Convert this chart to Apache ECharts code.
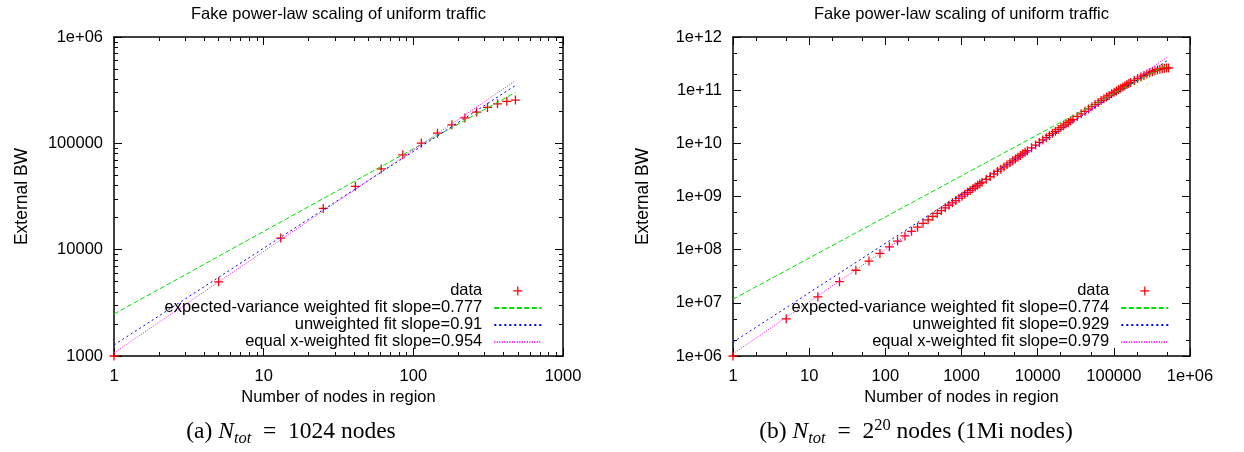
<!DOCTYPE html>
<html><head><meta charset="utf-8">
<script src="https://cdn.jsdelivr.net/npm/echarts@6/dist/echarts.min.js"></script>
<style>html,body{margin:0;padding:0;background:#fff}#c{width:1244px;height:452px}</style>
</head><body><div id="c"></div>
<script>
// ---------- data ----------
const leftNodes = [1,5,13,25,41,61,85,113,145,181,221,265,313,365,421,481];
const leftBW = [1000,4980,12848,24414,39398,57422,78021,100629,124589,149153,173473,196614,217545,235127,248155,255316];
const leftFitX = [1, 481];
const leftFitEV = [2480, 301000];
const leftFitUW = [1270, 350000];
const leftFitEX = [1072, 388000];

const rightNodes = [1,5,13,25,41,61,85,113,145,181,221,265,313,365,421,481,545,613,685,761,841,925,1013,1105,1201,1301,1405,1513,1625,1741,1861,
 2113,2381,2665,2965,3281,3613,3961,4325,4705,5101,5513,5941,6385,6845,7321,
 8321,9385,10513,11705,12961,14281,15665,17113,18625,20201,21841,23545,25313,27145,29041,
 33025,37265,41761,46513,51521,56785,62305,68081,74113,80401,86945,93745,100801,108113,115681,
 123505,131585,139921,148513,157361,166465,185441,205441,226465,248513,271585,295681,320801,346945,374113,402305,431521,461761,493025,523265];
const rightBW = [1.0e6,5.0e6,1.3e7,2.4999e7,4.1e7,6.0996e7,8.4993e7,1.1299e8,1.4498e8,1.8097e8,2.2095e8,2.6493e8,3.1291e8,3.6487e8,4.2083e8,4.8078e8,5.4472e8,6.1264e8,6.8455e8,7.6045e8,8.4033e8,9.2418e8,1.01202e9,1.10384e9,1.19962e9,1.29939e9,1.40312e9,1.51082e9,1.62248e9,1.73811e9,1.8577e9,
 2.1087e9,2.3756e9,2.6582e9,2.9566e9,3.2707e9,3.6005e9,3.946e9,4.3072e9,4.6839e9,5.0762e9,5.484e9,5.9073e9,6.3461e9,6.8003e9,7.2699e9,
 8.255e9,9.301e9,1.04076e10,1.15743e10,1.28008e10,1.40865e10,1.5431e10,1.68337e10,1.82942e10,1.98118e10,2.13861e10,2.30163e10,2.4702e10,2.64423e10,2.82367e10,
 3.19849e10,3.59406e10,4.00978e10,4.44497e10,4.89895e10,5.37098e10,5.86029e10,6.36618e10,6.88747e10,7.42362e10,7.97357e10,8.5364e10,9.11107e10,9.6966e10,1.02919e11,
 1.08958e11,1.15073e11,1.2125e11,1.27478e11,1.33746e11,1.40038e11,1.52646e11,1.65191e11,1.77554e11,1.89615e11,2.01243e11,2.12303e11,2.22653e11,2.3215e11,2.40637e11,2.47953e11,2.53936e11,2.58415e11,2.61214e11,2.62142e11];
const rightFitX = [1, 523265];
const rightFitEV = [1.17e7, 3.10e11];
const rightFitUW = [1.82e6, 3.74e11];
const rightFitEX = [1.10e6, 4.38e11];

const leftXLabels = ['1','10','100','1000'];
const leftYLabels = ['1000','10000','100000','1e+06'];
const rightXLabels = ['1','10','100','1000','10000','100000','1e+06'];
const rightYLabels = ['1e+06','1e+07','1e+08','1e+09','1e+10','1e+11','1e+12'];
const leftMinorMult = [2,3,4,5,6,7,8,9];
const rightMinorMult = [2,5];

const leftNames = ['data','expected-variance weighted fit slope=0.777','unweighted fit slope=0.91','equal x-weighted fit slope=0.954'];
const rightNames = ['data','expected-variance weighted fit slope=0.774','unweighted fit slope=0.929','equal x-weighted fit slope=0.979'];

const titleText = 'Fake power-law scaling of uniform traffic';
const xName = 'Number of nodes in region';
const yName = 'External BW';

// ---------- styles ----------
const FONT = 'Liberation Sans';
const FS = 16.5;
const RED = '#ff0000', GREEN = '#00e000', BLUE = '#0000ff', MAG = '#ff00ff';
const PLUS = 'path://M4.3,0H5.7V4.3H10V5.7H5.7V10H4.3V5.7H0V4.3H4.3Z';

const grids = [
  {left:114, top:37, width:449, height:319},
  {left:733, top:37, width:457, height:319}
];

function zip(a,b){ return a.map((v,i)=>[v,b[i]]); }
function minorVals(lo, hi, mults){
  const out=[];
  for(let d=lo; d<hi; d++) for(const m of mults) out.push(d+Math.log10(m));
  return out;
}

const xAxes=[], yAxes=[];
xAxes.push({type:'log', gridIndex:0, min:1, max:1000, show:false});
xAxes.push({type:'log', gridIndex:1, min:1, max:1e6, show:false});
yAxes.push({type:'log', gridIndex:0, min:1000, max:1e6, show:false});
yAxes.push({type:'log', gridIndex:1, min:1e6, max:1e12, show:false});

function deco(list, gi, pos, lo, hi, labels, mults, showLabels, margin){
  const tickStyle = {color:'#000', width:1};
  list.push({type:'value', gridIndex:gi, position:pos, min:lo, max:hi, interval:1,
    axisLine:{show:true, onZero:false, lineStyle:{color:'#000', width:1.5}},
    axisTick:{show:true, inside:true, length:8, lineStyle:tickStyle},
    axisLabel:{show:showLabels, margin:margin, color:'#000', fontFamily:FONT, fontSize:FS,
      formatter:(v)=>labels[Math.round(v-lo)]},
    splitLine:{show:false}});
  list.push({type:'value', gridIndex:gi, position:pos, min:lo, max:hi,
    axisLine:{show:false, onZero:false},
    axisTick:{show:true, inside:true, length:4, customValues:minorVals(lo,hi,mults), lineStyle:tickStyle},
    axisLabel:{show:false}, splitLine:{show:false}});
}
deco(xAxes,0,'bottom',0,3,leftXLabels,leftMinorMult,true,12);
deco(xAxes,0,'top',0,3,leftXLabels,leftMinorMult,false,12);
deco(yAxes,0,'left',3,6,leftYLabels,leftMinorMult,true,11);
deco(yAxes,0,'right',3,6,leftYLabels,leftMinorMult,false,11);
deco(xAxes,1,'bottom',0,6,rightXLabels,rightMinorMult,true,12);
deco(xAxes,1,'top',0,6,rightXLabels,rightMinorMult,false,12);
deco(yAxes,1,'left',6,12,rightYLabels,rightMinorMult,true,11);
deco(yAxes,1,'right',6,12,rightYLabels,rightMinorMult,false,11);

function seriesFor(i, nodes, bw, fx, ev, uw, ex, names){
  return [
    {type:'scatter', name:names[0], xAxisIndex:i, yAxisIndex:i, data:zip(nodes,bw),
      symbol:PLUS, symbolSize:9, itemStyle:{color:RED, opacity:1}, emphasis:{disabled:true}, animation:false},
    {type:'line', name:names[1], xAxisIndex:i, yAxisIndex:i, data:zip(fx,ev), symbol:'none', showSymbol:false,
      lineStyle:{color:GREEN, width:1, type:[5,2.5]}, itemStyle:{color:GREEN}, animation:false},
    {type:'line', name:names[2], xAxisIndex:i, yAxisIndex:i, data:zip(fx,uw), symbol:'none', showSymbol:false,
      lineStyle:{color:BLUE, width:1, type:[2,3]}, itemStyle:{color:BLUE}, animation:false},
    {type:'line', name:names[3], xAxisIndex:i, yAxisIndex:i, data:zip(fx,ex), symbol:'none', showSymbol:false,
      lineStyle:{color:MAG, width:1, type:[1,1.5]}, itemStyle:{color:MAG}, animation:false}
  ];
}
const series = [].concat(
  seriesFor(0, leftNodes, leftBW, leftFitX, leftFitEV, leftFitUW, leftFitEX, leftNames),
  seriesFor(1, rightNodes, rightBW, rightFitX, rightFitEV, rightFitUW, rightFitEX, rightNames)
);

function legendFor(names, right){
  const data = names.map((n,i)=> i===0 ? {name:n} : {name:n, itemStyle:{opacity:0, borderWidth:0}});
  return {data:data, orient:'vertical', align:'right', right:right, top:282.4, padding:0,
    itemWidth:47, itemHeight:9, itemGap:0, selectedMode:false,
    textStyle:{fontFamily:FONT, fontSize:FS, color:'#000', lineHeight:16.5, padding:[0,7,0,0]}};
}

function txt(x,y,text,extra){
  return Object.assign({type:'text', x:x, y:y, silent:true,
    style:{text:text, fontFamily:FONT, fontSize:FS, fill:'#000', align:'center', verticalAlign:'middle'}}, extra||{});
}
const CF = 'Liberation Serif';
const capRich = {
  i:{fontStyle:'italic', fontFamily:CF, fontSize:23.5, lineHeight:30},
  s:{fontStyle:'italic', fontFamily:CF, fontSize:16.5, lineHeight:19, verticalAlign:'bottom'},
  p:{fontFamily:CF, fontSize:16.5, lineHeight:19, verticalAlign:'top'},
  n:{fontFamily:CF, fontSize:23.5, lineHeight:30}
};
function caption(x,y,text){
  return {type:'text', x:x, y:y, silent:true,
    style:{text:text, rich:capRich, fontFamily:CF, fontSize:23.5, fill:'#000', align:'center', verticalAlign:'middle'}};
}

const graphic = [
  txt(338.5,14,titleText), txt(961.5,14,titleText),
  txt(338.5,397,xName), txt(961.5,397,xName),
  txt(22,196.5,yName,{rotation:Math.PI/2, style:{text:yName, fontFamily:FONT, fontSize:17.5, fill:'#000', align:'center', verticalAlign:'middle'}}),
  txt(643,196.5,yName,{rotation:Math.PI/2, style:{text:yName, fontFamily:FONT, fontSize:17.5, fill:'#000', align:'center', verticalAlign:'middle'}}),
  caption(291,432,'{n|(a) }{i|N}{s|tot}{n|  =  1024 nodes}'),
  caption(916,432,'{n|(b) }{i|N}{s|tot}{n|  =  2}{p|20}{n| nodes (1Mi nodes)}')
];

const chart = echarts.init(document.getElementById('c'));
chart.setOption({
  animation:false,
  backgroundColor:'#fff',
  grid:grids,
  xAxis:xAxes, yAxis:yAxes,
  legend:[legendFor(leftNames, 1244-542.3), legendFor(rightNames, 1244-1169.3)],
  series:series,
  graphic:graphic
});
</script></body></html>
